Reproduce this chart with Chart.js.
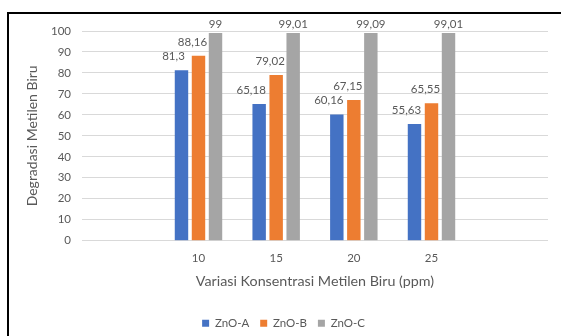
<!DOCTYPE html>
<html>
<head>
<meta charset="utf-8">
<script src="https://cdn.jsdelivr.net/npm/chart.js@4"></script>
<style>
  html, body { margin: 0; padding: 0; background: #fff; overflow: hidden; }
  #wrap { position: relative; width: 561px; height: 336px; }
  #frame { position: absolute; left: 7px; top: 12px; width: 600px; height: 400px;
           border: 2px solid #000; box-sizing: border-box; pointer-events: none; }
  canvas { position: absolute; left: 0; top: 0; }
</style>
</head>
<body>
<div id="wrap">
  <canvas id="c" width="561" height="336"></canvas>
  <div id="frame"></div>
</div>
<script>
// Concentration groups (empty slots pad both ends of the axis)
const categories = ['', '10', '15', '20', '25', ''];
const znoA = [null, 81.3, 65.18, 60.16, 55.63, null];
const znoB = [null, 88.16, 79.02, 67.15, 65.55, null];
const znoC = [null, 99, 99.01, 99.09, 99.01, null];
const yTicks = [0, 10, 20, 30, 40, 50, 60, 70, 80, 90, 100];

const TEXT = '#595959';
const FONT = 'Lato, "Open Sans", sans-serif';

// Value labels above each bar, decimal comma
const valueLabels = {
  id: 'valueLabels',
  afterDatasetsDraw(chart) {
    const ctx = chart.ctx;
    const shift = [-8, -6, 0];
    ctx.save();
    ctx.font = '11.5px ' + FONT;
    ctx.fillStyle = TEXT;
    ctx.textAlign = 'center';
    ctx.textBaseline = 'middle';
    chart.data.datasets.forEach((ds, i) => {
      const meta = chart.getDatasetMeta(i);
      meta.data.forEach((bar, j) => {
        const v = ds.data[j];
        if (v === null || v === undefined) return;
        const y = Math.max(bar.y - 14, chart.chartArea.top - 7);
        ctx.fillText(String(v).replace('.', ','), bar.x + shift[i], y);
      });
    });
    ctx.restore();
  }
};

new Chart(document.getElementById('c'), {
  type: 'bar',
  data: {
    labels: categories,
    datasets: [
      { label: 'ZnO-A', data: znoA, backgroundColor: '#4472C4' },
      { label: 'ZnO-B', data: znoB, backgroundColor: '#ED7D31' },
      { label: 'ZnO-C', data: znoC, backgroundColor: '#A5A5A5' }
    ]
  },
  options: {
    responsive: false,
    animation: false,
    devicePixelRatio: 1,
    categoryPercentage: 0.657,
    barPercentage: 0.79,
    layout: { padding: { left: 19, right: 13, top: 31, bottom: -3 } },
    plugins: {
      legend: {
        position: 'bottom',
        labels: {
          boxWidth: 7, boxHeight: 7, padding: 11,
          color: TEXT, font: { family: FONT, size: 11.5 }
        }
      },
      tooltip: { enabled: false }
    },
    scales: {
      x: {
        grid: { display: false, drawTicks: false },
        border: { display: false },
        ticks: { color: TEXT, font: { family: FONT, size: 11.5 }, padding: 11, maxRotation: 0 },
        title: {
          display: true, text: 'Variasi Konsentrasi Metilen Biru (ppm)',
          color: TEXT, font: { family: FONT, size: 14.3 }, padding: { top: 4, bottom: 17 }
        },
        afterFit(s) { s.height = 65.8; }
      },
      y: {
        min: 0, max: 100,
        afterBuildTicks(s) { s.ticks = yTicks.map(v => ({ value: v })); },
        grid: { color: '#D9D9D9', drawTicks: false },
        border: { display: false },
        ticks: { color: TEXT, font: { family: FONT, size: 11.5 }, padding: 11 },
        title: {
          display: true, text: 'Degradasi Metilen Biru',
          color: TEXT, font: { family: FONT, size: 14 }, padding: { top: 5, bottom: 0 }
        },
        afterFit(s) { s.width = 63; }
      }
    }
  },
  plugins: [valueLabels]
});
</script>
</body>
</html>
